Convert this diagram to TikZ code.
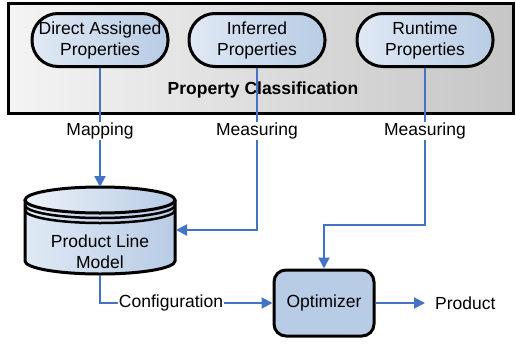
\documentclass[tikz,border=0pt]{standalone}
\usepackage{fontspec}
\setmainfont{Liberation Sans}
\usetikzlibrary{arrows.meta,positioning}

\definecolor{flowblue}{RGB}{68,114,196}
\definecolor{pillLight}{RGB}{224,233,245}
\definecolor{pillDark}{RGB}{184,204,229}
\definecolor{boxLight}{RGB}{244,244,244}
\definecolor{boxDark}{RGB}{198,198,198}

\tikzset{
  prop/.style={draw=black, line width=3pt, rounded corners=26pt,
    minimum width=136pt, minimum height=53pt, left color=pillLight,
    right color=pillDark, align=center, inner sep=0pt},
  optbox/.style={draw=black, line width=3pt, rounded corners=12pt,
    fill=pillDark, minimum width=100pt, minimum height=66pt},
  flow/.style={draw=flowblue, line width=2pt,
    -{Triangle[length=11pt,width=11pt]}},
  lab/.style={fill=white, inner sep=1pt},
}

\begin{document}
\begin{tikzpicture}[x=1pt, y=-1pt, font=\fontsize{17.5}{21}\selectfont]
\useasboundingbox (0,0) rectangle (516,343);

% --- Property Classification box ---
\draw[line width=3pt, left color=boxLight, right color=boxDark]
  (8,3) rectangle (513,113);
\node[font=\fontsize{17.5}{21}\selectfont\bfseries] (pc) at (263,90)
  {Property Classification};
\node[prop] (dap) at (100,40) {Direct Assigned\\Properties};
\node[prop] (inf) at (257,40) {Inferred\\Properties};
\node[prop] (rtp) at (425,40) {Runtime\\Properties};

% --- Product Line Model (cylinder) ---
\def\cylrx{75}
\def\cylry{13}
\fill[left color=pillLight, right color=pillDark]
  (25,200) -- (25,261) arc (180:360:\cylrx pt and \cylry pt) -- (175,200) -- cycle;
\fill[left color=pillLight!60!white, right color=pillDark]
  (100,200) ellipse (\cylrx pt and \cylry pt);
\draw[line width=3pt]
  (25,200) -- (25,261) arc (180:360:\cylrx pt and \cylry pt) -- (175,200);
\draw[line width=3pt] (100,200) ellipse (\cylrx pt and \cylry pt);
\draw[line width=2.5pt] (25,205) arc (180:360:\cylrx pt and \cylry pt);
\draw[line width=2.5pt] (25,210) arc (180:360:\cylrx pt and \cylry pt);
\node[align=center, inner sep=0pt] (plm) at (100,252) {Product Line\\Model};
\coordinate (plmtop) at (100,187);
\coordinate (plmright) at (176,230);
\coordinate (plmbot) at (100,275);

% --- Optimizer and product ---
\node[optbox] (opt) at (324,303) {Optimizer};
\node[anchor=west, inner sep=0pt] (prod) at (435,303) {Product};
\coordinate (rtbend) at (324,225);

% --- Connectors ---
\draw[flow] (dap) -- (plmtop);
\draw[flow] (inf) |- (plmright);
\draw[flow] (rtp) |- (rtbend) -- (opt);
\draw[flow] (plmbot) |- (opt);
\draw[flow] (opt) -- ([xshift=-10pt]prod.west);

% --- Connector labels ---
\node[lab] (mapl) at (100,131) {Mapping};
\node[lab] (meal) at (257,131) {Measuring};
\node[lab] (mear) at (425,131) {Measuring};
\node[lab] (cfgl) at (171,303) {Configuration};
\end{tikzpicture}
\end{document}
